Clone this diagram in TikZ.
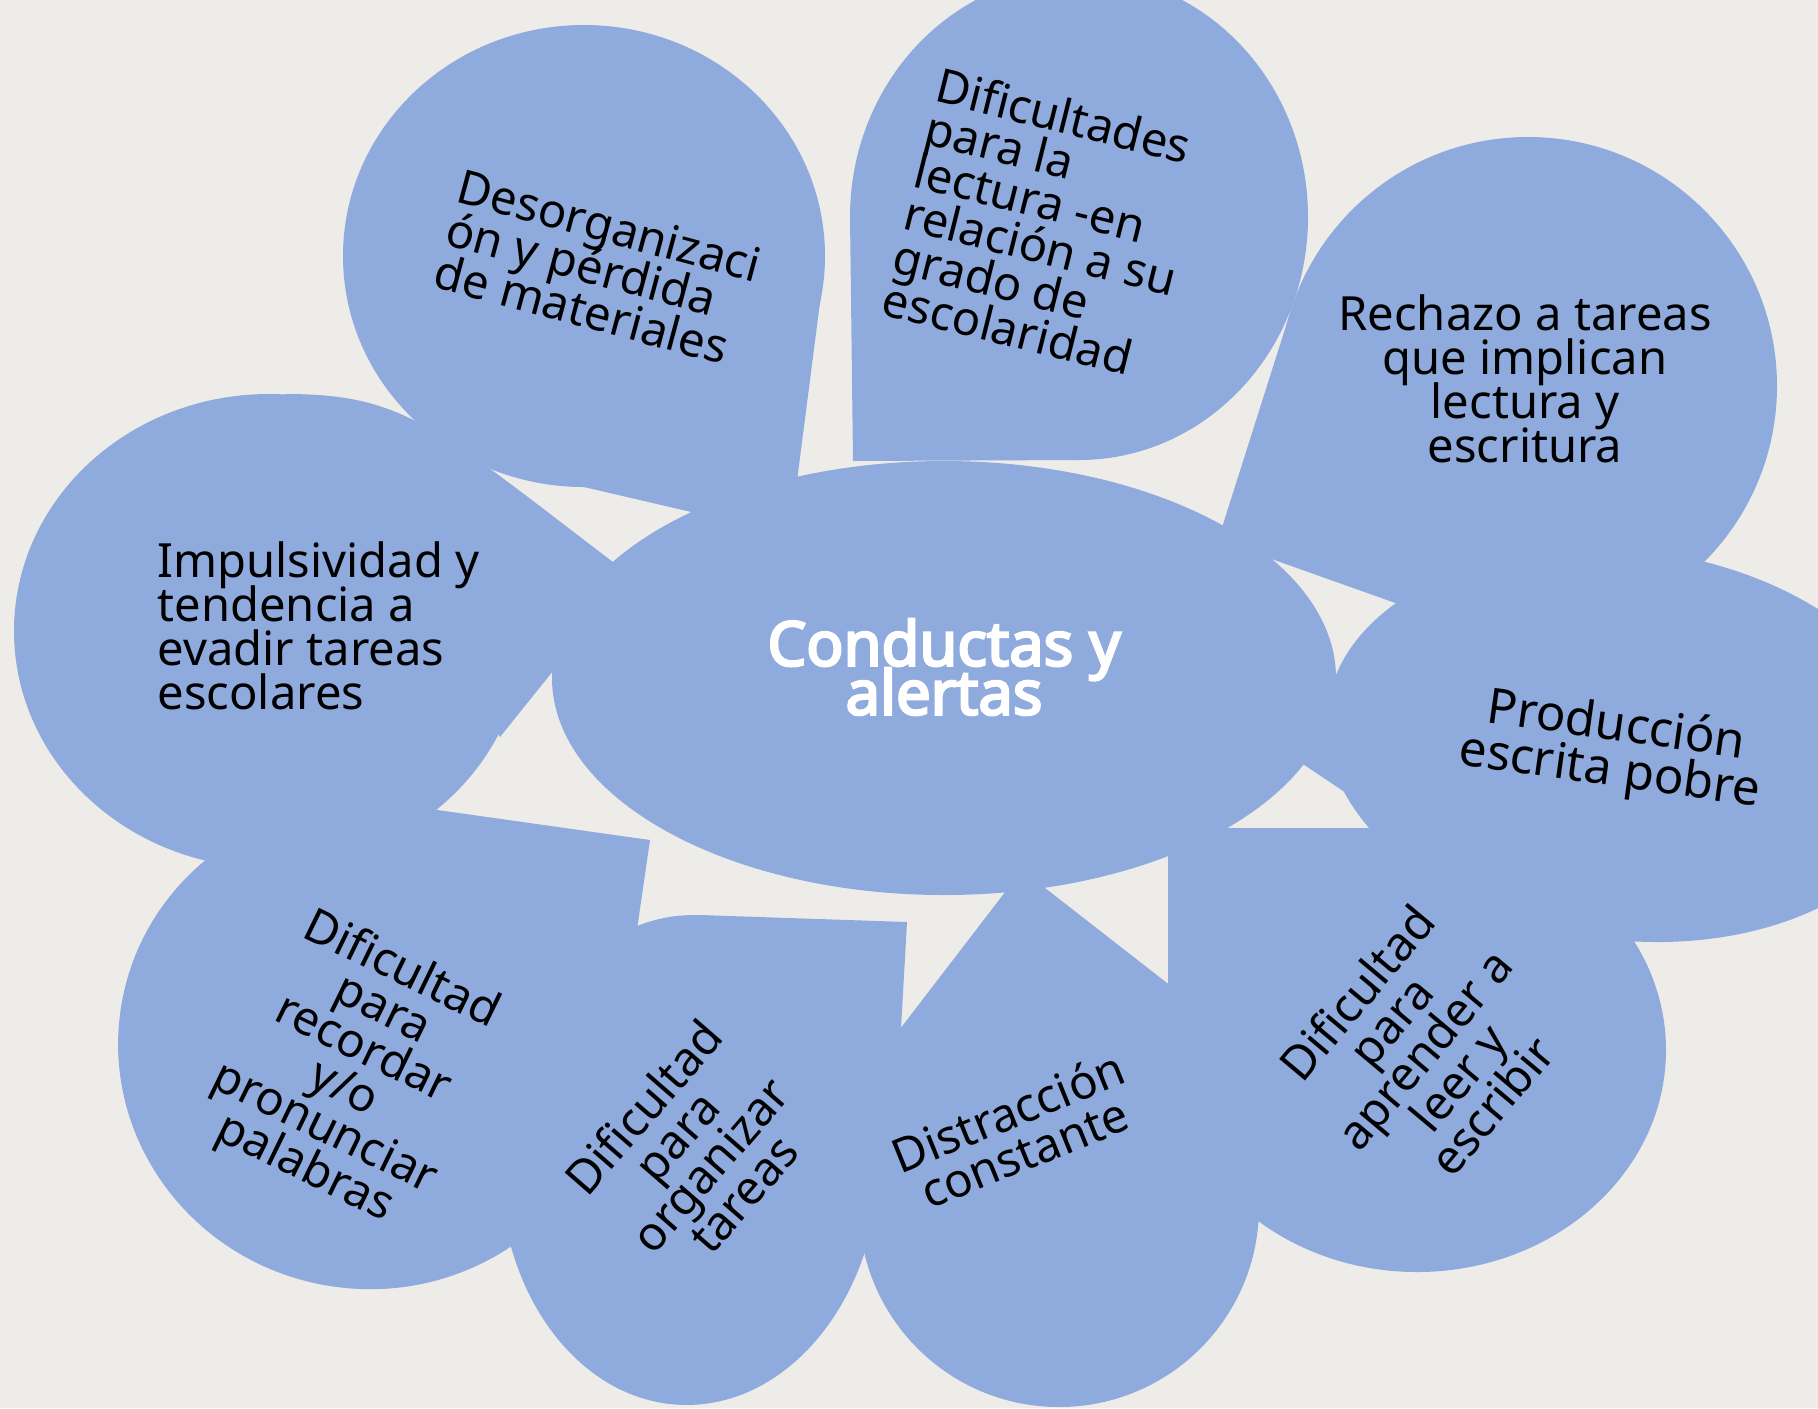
\documentclass[tikz,border=0pt]{standalone}
\usepackage{fontspec}
\setmainfont{Noto Sans}
\newfontfamily\headfont{Noto Sans}[FakeBold=4]
\definecolor{petalblue}{HTML}{8FAADC}
\definecolor{paper}{HTML}{EEECE9}
\newcommand{\tightlines}{\lineskiplimit=-100pt\relax}

\begin{document}
\begin{tikzpicture}
  [x=0.01cm,y=-0.01cm,
   petal/.style={fill=petalblue},
   petaltext/.style={font=\fontsize{13.4}{12.5}\selectfont\tightlines,inner sep=0pt}]

  \fill[paper] (0,0) rectangle (1818,1408);
  \useasboundingbox (0,0) rectangle (1818,1408);

  % round part of every drop
  \foreach \cx/\cy/\rx/\ry/\rot in {584/256/241/231/0, 1079/217/229/243/0,
      1528/386/249/249/0, 269/631/255/237/0, 1625/745/300/195/-7,
      368/1046/250/243/-8, 690/1160/190/245/-2, 1059/1207/200/200/0,
      1417/1050/249/222/0}
    \fill[petal, rotate around={\rot:(\cx,\cy)}] (\cx,\cy) ellipse [x radius=\rx, y radius=\ry];

  % pointed ends
  \fill[petal] (790,535) -- (822,287) -- (584,487) -- cycle;
  \fill[petal] (853,461) -- (850,217) -- (1079,460) -- cycle;
  \fill[petal] (1218,540) -- (1292,307) -- (1449,622) -- cycle;
  \fill[petal] (285,394) .. controls (407,394) and (435,427) .. (630,575) -- (500,737) -- cycle;
  \fill[petal] (1270,742) -- (1420,700) -- (1470,876) -- cycle;
  \fill[petal] (650,840) -- (402,805) -- (615,1081) -- cycle;
  \fill[petal] (907,922) -- (700,915) -- (860,1240) -- (897,1100) -- cycle;
  \fill[petal] (1022,870) -- (1185,997) -- (1150,1100) -- (880,1120) -- (890,1042) -- cycle;
  \fill[petal] (1168,828) -- (1417,828) -- (1168,1050) -- cycle;

  % centre
  \fill[petal] (944,678) ellipse [x radius=392, y radius=217];

  \node[petaltext, align=left, rotate=-15] (desorg) at (598,268)
    {Desorganizaci\\ón y pérdida\\de materiales};
  \node[petaltext, align=left, rotate=-14] (lectura) at (1046,224)
    {Dificultades\\para la\\lectura -en\\relación a su\\grado de\\escolaridad};
  \node[petaltext, align=center] (rechazo) at (1525,379)
    {Rechazo a tareas\\que implican\\lectura y\\escritura};
  \node[petaltext, align=left, anchor=west] (impulso) at (157,626)
    {Impulsividad y\\tendencia a\\evadir tareas\\escolares};
  \node[petaltext, align=center, rotate=-8, font=\fontsize{14}{13}\selectfont\tightlines] (produccion) at (1613,750)
    {Producción\\escrita pobre};
  \node[petaltext, align=center, rotate=-26] (recordar) at (353,1070)
    {Dificultad\\para\\recordar\\y/o\\pronunciar\\palabras};
  \node[petaltext, align=center, rotate=49] (organizar) at (693,1150)
    {Dificultad\\para\\organizar\\tareas};
  \node[petaltext, align=center, rotate=22] (distraccion) at (1016,1132)
    {Distracción\\constante};
  \node[petaltext, align=center, rotate=50] (aprender) at (1424,1049)
    {Dificultad\\para\\aprender a\\leer y\\escribir};

  \node[font=\headfont\fontsize{17.5}{13.9}\selectfont\tightlines, text=white, align=center, inner sep=0pt] (centro) at (944,667)
    {Conductas y\\alertas};
\end{tikzpicture}
\end{document}
